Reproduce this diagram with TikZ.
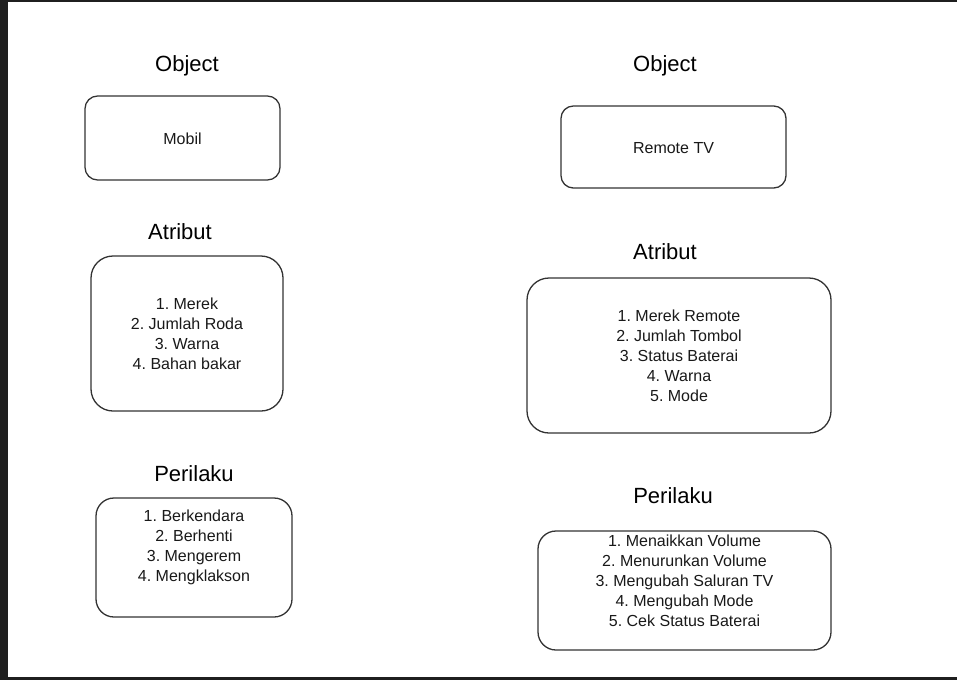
\documentclass[tikz,border=0pt]{standalone}
\usepackage{fontspec}
\setmainfont{Liberation Sans}
\frenchspacing
\begin{document}
\begin{tikzpicture}[x=1pt,y=-1pt,
  title/.style={font=\fontsize{22}{26}\selectfont, text=black},
  box/.style={draw=black!80, line width=1.3pt, fill=white, inner sep=0pt},
  list/.style={font=\fontsize{16}{20}\selectfont, align=center, text=black!90}]
% screenshot frame
\fill[black!88] (0,0) rectangle (957,680);
\fill[white] (8,1.5) rectangle (957,677);
\useasboundingbox (0,0) rectangle (957,680);

% Mobil
\node[title] (objL) at (187,66) {Object};
\node[box, rounded corners=12.6pt, minimum width=195pt, minimum height=84pt] (mobil) at (182.5,138) {};
\node[list] (mobilText) at ([yshift=-1pt]mobil.center) {Mobil};

\node[title] (atrL) at (180,232) {Atribut};
\node[box, rounded corners=22pt, minimum width=192pt, minimum height=155pt] (atrBoxL) at (187,333.5) {};
\node[list] (atrTextL) at (atrBoxL.center) {1. Merek\\2. Jumlah Roda\\3. Warna\\4. Bahan bakar};

\node[title] (perL) at (194,474) {Perilaku};
\node[box, rounded corners=18pt, minimum width=196pt, minimum height=119pt] (perBoxL) at (194,557.5) {};
\node[list] (perTextL) at ([yshift=10pt]perBoxL.center) {1. Berkendara\\2. Berhenti\\3. Mengerem\\4. Mengklakson};

% Remote TV
\node[title] (objR) at (665,66) {Object};
\node[box, rounded corners=12.3pt, minimum width=225pt, minimum height=82pt] (remote) at (673.5,147) {};
\node[list] (remoteText) at ([yshift=-1pt]remote.center) {Remote TV};

\node[title] (atrR) at (665,252) {Atribut};
\node[box, rounded corners=22pt, minimum width=304pt, minimum height=155pt] (atrBoxR) at (679,355.5) {};
\node[list] (atrTextR) at (atrBoxR.center) {1. Merek Remote\\2. Jumlah Tombol\\3. Status Baterai\\4. Warna\\5. Mode};

\node[title] (perR) at (673,496) {Perilaku};
\node[box, rounded corners=18pt, minimum width=293pt, minimum height=119pt] (perBoxR) at (684.5,590.5) {};
\node[list] (perTextR) at ([yshift=10pt]perBoxR.center) {1. Menaikkan Volume\\2. Menurunkan Volume\\3. Mengubah Saluran TV\\4. Mengubah Mode\\5. Cek Status Baterai};
\end{tikzpicture}
\end{document}
